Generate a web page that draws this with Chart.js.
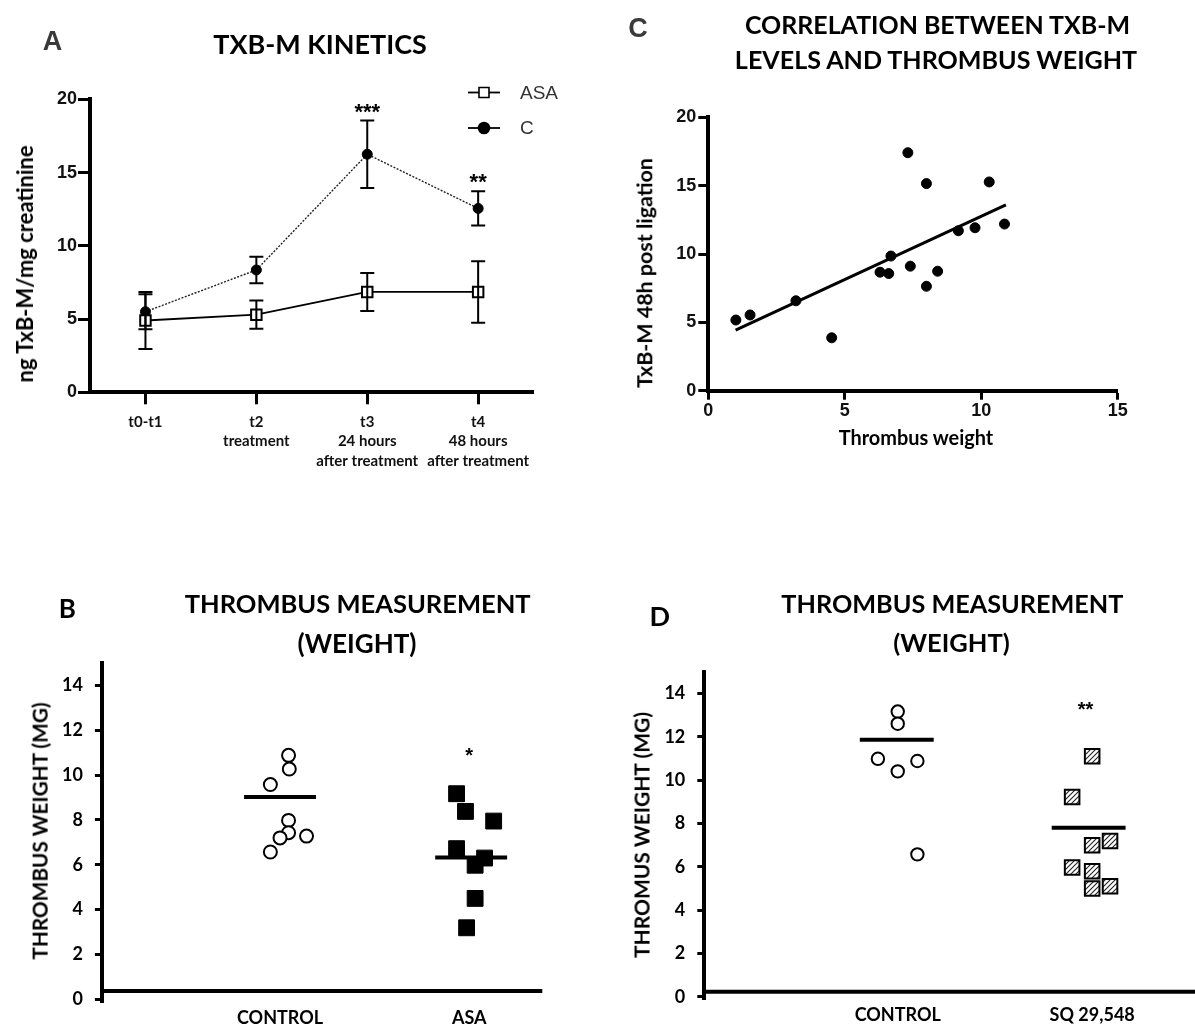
<!DOCTYPE html>
<html><head><meta charset="utf-8">
<script src="https://cdn.jsdelivr.net/npm/chart.js@4.4.1/dist/chart.umd.min.js"></script>
<style>
html,body{margin:0;padding:0;background:#fff;}
#page{position:relative;width:1195px;height:1030px;overflow:hidden;background:#fff;}
canvas{position:absolute;left:0;top:0;}
.t{position:absolute;white-space:nowrap;line-height:1;color:#000;font-weight:bold;font-family:"Lato";}
</style></head>
<body><div id="page">
<canvas id="cA" width="1195" height="1030"></canvas>
<canvas id="cC" width="1195" height="1030"></canvas>
<canvas id="cB" width="1195" height="1030"></canvas>
<canvas id="cD" width="1195" height="1030"></canvas>
</div>
<script>
// ---------------- DATA ----------------
// Panel A : TXB-M kinetics
const kineticsLabels = [['t0-t1'], ['t2', 'treatment'], ['t3', '24 hours', 'after treatment'], ['t4', '48 hours', 'after treatment']];
const asaMean = [4.9, 5.3, 6.85, 6.85];
const asaErr  = [1.95, 0.96, 1.3, 2.1];
const ctrlMean = [5.5, 8.35, 16.25, 12.55];
const ctrlErr  = [1.2, 0.9, 2.3, 1.17];
const kineticsStars = [{x: 2, y: 19.5, text: '***'}, {x: 3, y: 14.7, text: '**'}];
const kineticsYTicks = [0, 5, 10, 15, 20];

// Panel C : correlation
const thrombusWeight = [1.01, 1.53, 3.21, 4.52, 6.29, 6.61, 6.69, 7.31, 7.40, 7.99, 7.99, 8.40, 9.16, 9.77, 10.29, 10.85];
const txbm48h        = [5.17, 5.54, 6.58, 3.87, 8.67, 8.57, 9.85, 17.41, 9.11, 15.15, 7.64, 8.74, 11.70, 11.92, 15.27, 12.19];
const fitLineX = [1.0, 10.9];
const fitLineY = [4.43, 13.6];
const correlationXTicks = [0, 5, 10, 15];

// Panel B : thrombus weight, control vs ASA
const groupsB = ['CONTROL', 'ASA'];
const bControlY = [10.88, 10.27, 9.58, 7.98, 7.43, 7.2, 7.28, 6.57];
const bControlX = [1.045, 1.049, 0.949, 1.045, 1.045, 1.0, 1.14, 0.949];
const bAsaY = [9.17, 8.38, 7.95, 6.72, 6.3, 5.98, 4.5, 3.19];
const bAsaX = [1.933, 1.98, 2.129, 1.933, 2.081, 2.031, 2.031, 1.986];
const bMeans = [9.02, 6.32];
const bMeanX = [1.0, 2.01];
const bStars = [{x: 2.0, y: 11.09, text: '*'}];

// Panel D : thrombus weight, control vs SQ 29,548
const groupsD = ['CONTROL', 'SQ 29,548'];
const dControlY = [13.16, 12.6, 10.98, 10.88, 10.4, 6.57];
const dControlX = [1.0, 1.0, 0.898, 1.101, 1.0, 1.101];
const dSqY = [11.1, 9.22, 6.99, 7.19, 5.96, 5.79, 4.99, 5.1];
const dSqX = [2.0, 1.897, 2.0, 2.092, 1.897, 2.0, 2.0, 2.092];
const dMeans = [11.86, 7.8];
const dMeanX = [0.995, 1.982];
const dStars = [{x: 1.966, y: 13.46, text: '**'}];

const weightYTicks = [0, 2, 4, 6, 8, 10, 12, 14];

// ---------------- HELPERS / PLUGINS ----------------
Chart.defaults.font.family = 'Liberation Sans';
Chart.defaults.color = '#000';
Chart.defaults.animation = false;
Chart.defaults.events = [];
Chart.defaults.plugins.legend.display = false;
Chart.defaults.plugins.tooltip.enabled = false;

const errorBarsPlugin = {
  id: 'errorBars',
  afterDatasetsDraw(chart, args, opts) {
    const ctx = chart.ctx, y = chart.scales.y;
    chart.data.datasets.forEach((ds, i) => {
      if (!ds.errors) return;
      const meta = chart.getDatasetMeta(i);
      ctx.save();
      ctx.strokeStyle = opts.color; ctx.lineWidth = opts.width;
      meta.data.forEach((pt, j) => {
        const v = ds.data[j], e = ds.errors[j];
        const top = y.getPixelForValue(v + e), bot = y.getPixelForValue(v - e);
        ctx.beginPath();
        ctx.moveTo(pt.x, top); ctx.lineTo(pt.x, bot);
        ctx.moveTo(pt.x - opts.cap, top); ctx.lineTo(pt.x + opts.cap, top);
        ctx.moveTo(pt.x - opts.cap, bot); ctx.lineTo(pt.x + opts.cap, bot);
        ctx.stroke();
      });
      ctx.restore();
    });
  }
};

const starsPlugin = {
  id: 'stars',
  afterDatasetsDraw(chart, args, opts) {
    const ctx = chart.ctx, xs = chart.scales.x, ys = chart.scales.y;
    ctx.save();
    ctx.font = 'bold ' + opts.size + 'px "Liberation Sans"';
    ctx.fillStyle = '#000'; ctx.textAlign = 'center'; ctx.textBaseline = 'alphabetic';
    opts.items.forEach(it => {
      ctx.fillText(it.text, xs.getPixelForValue(it.x), ys.getPixelForValue(it.y) + opts.size * 0.57);
    });
    ctx.restore();
  }
};

const crossAxisPlugin = {
  id: 'crossAxis',
  beforeDatasetsDraw(chart, args, opts) {
    const {ctx, chartArea} = chart;
    const py = chart.scales.y.getPixelForValue(opts.value);
    ctx.save();
    ctx.strokeStyle = '#000'; ctx.lineWidth = opts.width;
    ctx.beginPath(); ctx.moveTo(chartArea.left, py); ctx.lineTo(chartArea.right, py); ctx.stroke();
    ctx.restore();
  }
};

const miniLegendPlugin = {
  id: 'miniLegend',
  afterDraw(chart, args, opts) {
    const ctx = chart.ctx;
    chart.data.datasets.forEach((ds, i) => {
      const y = opts.top + i * opts.gap;
      const cx = (opts.x0 + opts.x1) / 2;
      ctx.save();
      ctx.strokeStyle = '#000'; ctx.lineWidth = opts.lineWidth;
      ctx.beginPath(); ctx.moveTo(opts.x0, y); ctx.lineTo(opts.x1, y); ctx.stroke();
      ctx.fillStyle = ds.pointBackgroundColor; ctx.lineWidth = 1.6;
      const r = opts.radius[i];
      ctx.beginPath();
      if (ds.pointStyle === 'rect') ctx.rect(cx - r, y - r, 2 * r, 2 * r);
      else ctx.arc(cx, y, r, 0, Math.PI * 2);
      ctx.fill(); ctx.stroke();
      ctx.font = opts.font; ctx.fillStyle = opts.color;
      ctx.textAlign = 'left'; ctx.textBaseline = 'middle';
      ctx.fillText(ds.label, opts.textX, y + 1);
      ctx.restore();
    });
  }
};

function hatchPattern() {
  const c = document.createElement('canvas');
  c.width = 5; c.height = 5;
  const g = c.getContext('2d');
  g.fillStyle = '#fff'; g.fillRect(0, 0, 5, 5);
  g.strokeStyle = '#222'; g.lineWidth = 1.1;
  g.beginPath();
  g.moveTo(0, 5); g.lineTo(5, 0);
  g.moveTo(-1, 1); g.lineTo(1, -1);
  g.moveTo(4, 6); g.lineTo(6, 4);
  g.stroke();
  return g.createPattern(c, 'repeat');
}

function pts(xs, ys) { return ys.map((v, i) => ({x: xs[i], y: v})); }
function meanSeg(cx, v, half) { return [{x: cx - half, y: v}, {x: cx + half, y: v}]; }

// ---------------- PANEL A ----------------
new Chart(document.getElementById('cA'), {
  type: 'line',
  data: {
    labels: kineticsLabels,
    datasets: [
      {label: 'ASA', data: asaMean, errors: asaErr, borderColor: '#000', borderWidth: 1.8,
       pointStyle: 'rect', pointRadius: 7.4, pointBackgroundColor: '#fff', pointBorderColor: '#000', pointBorderWidth: 2, tension: 0},
      {label: 'C', data: ctrlMean, errors: ctrlErr, borderColor: '#222', borderWidth: 1.4, borderDash: [2, 1.5],
       pointStyle: 'circle', pointRadius: 5, pointBackgroundColor: '#000', pointBorderColor: '#000', pointBorderWidth: 1, tension: 0}
    ]
  },
  options: {
    responsive: false, devicePixelRatio: 1,
    layout: {autoPadding: false, padding: {left: 30, right: 661.4, top: 99.3, bottom: 557.7}},
    scales: {
      x: {
        type: 'category', offset: true,
        grid: {display: true, drawOnChartArea: false, drawTicks: true, tickLength: 12, tickWidth: 3, tickColor: '#000', offset: false},
        border: {display: true, width: 4, color: '#000'},
        ticks: {font: {family: 'Lato', weight: 'bold', size: 15, lineHeight: 1.3}, color: '#111', padding: 8, maxRotation: 0, autoSkip: false},
        afterFit: s => { s.height = 80; s.paddingLeft = 0; s.paddingRight = 0; }
      },
      y: {
        min: 0, max: 20,
        afterBuildTicks: s => { s.ticks = kineticsYTicks.map(v => ({value: v})); },
        grid: {display: true, drawOnChartArea: false, drawTicks: true, tickLength: 12, tickWidth: 3, tickColor: '#000'},
        border: {display: true, width: 4, color: '#000'},
        ticks: {font: {family: 'Liberation Sans', weight: 'bold', size: 18}, color: '#111', padding: 1},
        afterFit: s => { s.width = 60; s.paddingTop = 0; s.paddingBottom = 0; }
      }
    },
    plugins: {
      errorBars: {color: '#000', width: 2, cap: 7},
      stars: {items: kineticsStars, size: 22},
      miniLegend: {x0: 468, x1: 500, top: 92.5, gap: 35.5, lineWidth: 1.8, radius: [5, 5.5], textX: 520,
                   font: '19px "Liberation Sans"', color: '#333'}
    }
  },
  plugins: [errorBarsPlugin, starsPlugin, miniLegendPlugin]
});

// ---------------- PANEL C ----------------
new Chart(document.getElementById('cC'), {
  type: 'scatter',
  data: {
    datasets: [
      {label: 'TxB-M vs weight', data: pts(thrombusWeight, txbm48h), pointStyle: 'circle', pointRadius: 5,
       pointBackgroundColor: '#000', pointBorderColor: '#000', pointBorderWidth: 1},
      {label: 'fit', data: pts(fitLineX, fitLineY), showLine: true, borderColor: '#000', borderWidth: 3, pointRadius: 0}
    ]
  },
  options: {
    responsive: false, devicePixelRatio: 1,
    layout: {autoPadding: false, padding: {left: 648.3, right: 77.2, top: 117.3, bottom: 599.3}},
    scales: {
      x: {
        type: 'linear', min: 0, max: 15,
        afterBuildTicks: s => { s.ticks = correlationXTicks.map(v => ({value: v})); },
        grid: {display: true, drawOnChartArea: false, drawTicks: true, tickLength: 9, tickWidth: 3, tickColor: '#000'},
        border: {display: true, width: 4, color: '#000'},
        ticks: {font: {family: 'Liberation Sans', weight: 'bold', size: 18}, color: '#111', padding: 1, maxRotation: 0},
        afterFit: s => { s.height = 40; s.paddingLeft = 0; s.paddingRight = 0; }
      },
      y: {
        min: 0, max: 20,
        afterBuildTicks: s => { s.ticks = kineticsYTicks.map(v => ({value: v})); },
        grid: {display: true, drawOnChartArea: false, drawTicks: true, tickLength: 10, tickWidth: 3, tickColor: '#000'},
        border: {display: true, width: 4, color: '#000'},
        ticks: {font: {family: 'Liberation Sans', weight: 'bold', size: 18}, color: '#111', padding: 2},
        afterFit: s => { s.width = 60; s.paddingTop = 0; s.paddingBottom = 0; }
      }
    }
  }
});

// ---------------- PANELS B and D ----------------
function weightChart(id, groups, ctlX, ctlY, trtX, trtY, means, meanX, stars, trtStyle, pad, xHeight, xMin, xMax, cross, ctlRadius, labelPad) {
  return new Chart(document.getElementById(id), {
    type: 'scatter',
    data: {
      datasets: [
        {label: groups[0], data: pts(ctlX, ctlY), pointStyle: 'circle', pointRadius: ctlRadius,
         pointBackgroundColor: '#fff', pointBorderColor: '#000', pointBorderWidth: 2},
        Object.assign({label: groups[1], data: pts(trtX, trtY), pointStyle: 'rect', pointBorderColor: '#000'}, trtStyle),
        {label: 'mean ' + groups[0], data: meanSeg(meanX[0], means[0], 0.19), showLine: true, borderColor: '#000', borderWidth: 4, pointRadius: 0},
        {label: 'mean ' + groups[1], data: meanSeg(meanX[1], means[1], 0.19), showLine: true, borderColor: '#000', borderWidth: 4, pointRadius: 0}
      ]
    },
    options: {
      responsive: false, devicePixelRatio: 1,
      layout: {autoPadding: false, padding: pad},
      scales: {
        x: {
          type: 'linear', min: xMin, max: xMax,
          afterBuildTicks: s => { s.ticks = [1, 2].map(v => ({value: v})); },
          grid: {display: false, drawTicks: false},
          border: {display: false},
          ticks: {font: {family: 'Lato', weight: 'bold', size: 18}, color: '#000', padding: labelPad, maxRotation: 0,
                  callback: (v, i) => groups[i]},
          afterFit: s => { s.height = xHeight; s.paddingLeft = 0; s.paddingRight = 0; }
        },
        y: {
          min: -0.12, max: 15,
          afterBuildTicks: s => { s.ticks = weightYTicks.map(v => ({value: v})); },
          grid: {display: true, drawOnChartArea: false, drawTicks: true, tickLength: 7, tickWidth: 3, tickColor: '#000'},
          border: {display: true, width: 4, color: '#000'},
          ticks: {font: {family: 'Lato', weight: 'bold', size: 18}, color: '#000', padding: 12},
          afterFit: s => { s.width = 60; s.paddingTop = 0; s.paddingBottom = 0; }
        }
      },
      plugins: {
        crossAxis: {value: cross, width: 4},
        stars: {items: stars, size: 20}
      }
    },
    plugins: [crossAxisPlugin, starsPlugin]
  });
}

weightChart('cB', groupsB, bControlX, bControlY, bAsaX, bAsaY, bMeans, bMeanX, bStars,
  {pointRadius: 11.2, pointBackgroundColor: '#000', pointBorderWidth: 1},
  {left: 41.9, right: 652.7, top: 663, bottom: 0}, 28, 0.0587, 2.386, 0.37, 6.5, 5.2);

weightChart('cD', groupsD, dControlX, dControlY, dSqX, dSqY, dMeans, dMeanX, dStars,
  {pointRadius: 10.3, pointBackgroundColor: hatchPattern(), pointBorderWidth: 2},
  {left: 644.3, right: 0, top: 671.7, bottom: 0}, 30.7, 0.005, 2.529, 0.23, 6.2, 4.9);

// ---------------- TEXT (titles, letters, axis titles) ----------------
const texts = [
  {t: 'A', x: 52.5, y: 41, size: 27, fam: 'Liberation Sans', col: '#3a3a3a'},
  {t: 'TXB-M KINETICS', x: 320, y: 43.7, w: 213.5},
  {t: 'ng TxB-M/mg creatinine', x: 25, y: 264, w: 238, rot: true},
  {t: 'C', x: 638, y: 27.5, size: 27, fam: 'Liberation Sans', col: '#3a3a3a'},
  {t: 'CORRELATION BETWEEN TXB-M', x: 937.5, y: 24.2, w: 386},
  {t: 'LEVELS AND THROMBUS WEIGHT', x: 936, y: 60, w: 404},
  {t: 'TxB-M 48h post ligation', x: 644.6, y: 273.3, w: 230, rot: true},
  {t: 'Thrombus weight', x: 916, y: 437.5, w: 155},
  {t: 'B', x: 67.3, y: 607.5, size: 26},
  {t: 'THROMBUS MEASUREMENT', x: 357.7, y: 604, w: 346},
  {t: '(WEIGHT)', x: 357, y: 642.5, w: 119},
  {t: 'THROMBUS WEIGHT (MG)', x: 40.4, y: 830.8, w: 258, rot: true},
  {t: 'D', x: 659.8, y: 615, size: 27},
  {t: 'THROMBUS MEASUREMENT', x: 952.4, y: 604, w: 342},
  {t: '(WEIGHT)', x: 951.5, y: 642.5, w: 116.5},
  {t: 'THROMUS WEIGHT (MG)', x: 641.7, y: 835, w: 246.7, rot: true}
];
const mctx = document.createElement('canvas').getContext('2d');
const page = document.getElementById('page');
texts.forEach(o => {
  const fam = o.fam || 'Lato';
  let size = o.size;
  if (!size) {
    mctx.font = 'bold 100px "' + fam + '"';
    size = 100 * o.w / mctx.measureText(o.t).width;
  }
  const d = document.createElement('div');
  d.className = 't';
  d.textContent = o.t;
  d.style.fontFamily = '"' + fam + '"';
  d.style.fontSize = size.toFixed(2) + 'px';
  if (o.col) d.style.color = o.col;
  d.style.left = o.x + 'px';
  d.style.top = o.y + 'px';
  d.style.transform = 'translate(-50%,-50%)' + (o.rot ? ' rotate(-90deg)' : '');
  page.appendChild(d);
});
</script>
</body></html>
